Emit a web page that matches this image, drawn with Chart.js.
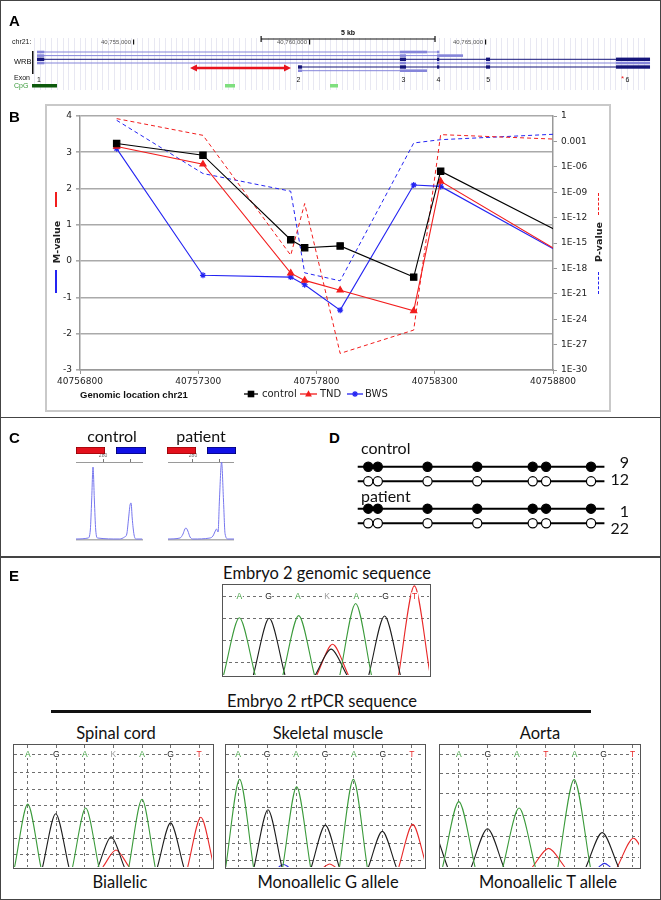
<!DOCTYPE html>
<html>
<head>
<meta charset="utf-8">
<script src="https://cdn.jsdelivr.net/npm/chart.js@4.4.1/dist/chart.umd.min.js"></script>
<style>
  body { margin: 0; background: #fff; }
  #fig { position: relative; width: 661px; height: 900px; overflow: hidden; font-family: 'Liberation Sans', Arial, sans-serif; }
  .frame { position: absolute; border: 1.5px solid #444; box-sizing: border-box; }
  .box { position: absolute; border: 1.3px solid #555; box-sizing: border-box; background: #fff; }
  canvas { position: absolute; display: block; }
</style>
</head>
<body>
<div id="fig">
  <div class="frame" style="left:0;top:0;width:661px;height:418px"></div>
  <div class="frame" style="left:0;top:416.5px;width:661px;height:141px"></div>
  <div class="frame" style="left:0;top:556px;width:661px;height:344px"></div>

  <canvas id="cA" width="661" height="64" style="left:0;top:28px"></canvas>

  <div style="position:absolute;left:45px;top:104px;width:566px;height:308px;border:2px solid #c9c9c9;box-sizing:border-box"></div>
  <canvas id="cB" width="562" height="304" style="left:47px;top:106px"></canvas>

  <canvas id="cC1" width="67" height="92" style="left:76px;top:450px"></canvas>
  <canvas id="cC2" width="66" height="92" style="left:168px;top:450px"></canvas>
  <canvas id="cD" width="265" height="80" style="left:350px;top:455px"></canvas>

  <div class="box" style="left:222px;top:584px;width:209px;height:93px"><canvas id="cE0" width="206" height="90" style="left:0;top:0"></canvas></div>
  <div class="box" style="left:13px;top:744px;width:201px;height:125px"><canvas id="cE1" width="198" height="122" style="left:0;top:0"></canvas></div>
  <div class="box" style="left:225px;top:744px;width:201px;height:125px"><canvas id="cE2" width="198" height="122" style="left:0;top:0"></canvas></div>
  <div class="box" style="left:438.5px;top:744px;width:202px;height:125px"><canvas id="cE3" width="199" height="122" style="left:0;top:0"></canvas></div>
  <div style="position:absolute;left:51px;top:709.5px;width:540px;height:3px;background:#111"></div>
</div>

<script>
// ---------- data ----------
// A: WRB locus (hg19 chr21)
const genomeMarks = [40755000, 40760000, 40765000];
const scaleBar = [40758640, 40763580];
const transcripts = [
  [[40752273, 40752480], [40762586, 40763353], [40763637, 40763700]],
  [[40752273, 40752480], [40762586, 40762756], [40763637, 40764376]],
  [[40752273, 40752480], [40762586, 40762756], [40763637, 40763700], [40765029, 40765142], [40768722, 40769688]],
  [[40752273, 40752480], [40762586, 40762756], [40763637, 40763700], [40765029, 40765142], [40768722, 40769688]],
  [[40759688, 40759800], [40762586, 40762756], [40763637, 40763700], [40765029, 40765142], [40768722, 40769688]],
  [[40759688, 40759800], [40762586, 40763353]]
];
const transcriptDark = [false, false, true, false, true, false];
const exonLabels = ['1', '2', '3', '4', '5', '6'];
const exonLabelPos = [40752330, 40759700, 40762680, 40763680, 40765090, 40769050];
const cpgIslands = [[40752131, 40752841], [40757614, 40757898], [40760597, 40760824]];
const targetRegion = [40756619, 40759489];

// B: methylation M-values and P-values
const siteLocations = [40756955, 40757320, 40757691, 40757750, 40757900, 40758211, 40758325, 40758950];
const controlM = [3.24, 2.92, 0.59, 0.37, 0.42, -0.44, 2.48, 0.40];
const tndM = [3.16, 2.67, -0.33, -0.53, -0.80, -1.37, 2.20, -0.21];
const bwsM = [3.10, -0.39, -0.44, -0.65, -1.35, 2.10, 2.06, -0.20];
const tndP = [0.49, 5.2e-3, 3.6e-17, 4.6e-11, 9.1e-29, 5.2e-26, 6.3e-3, 1.3e-3];
const bwsP = [0.31, 1.6e-7, 1.3e-9, 3e-19, 3.4e-20, 6.5e-4, 1.6e-3, 0.011];
const locationTicks = [40756800, 40757300, 40757800, 40758300, 40758800];
const pTicks = [1, 1e-3, 1e-6, 1e-9, 1e-12, 1e-15, 1e-18, 1e-21, 1e-24, 1e-27, 1e-30];

// C: fragment analysis traces (size in bp, RFU scaled)
const sizeTicks = [280, 290];
const controlSize = [270, 274.5, 275.3, 275.8, 276.3, 276.8, 277.3, 278, 286, 288, 288.8, 289.4, 290, 290.4, 290.8, 291.5, 292.3, 294.5];
const controlRFU = [1, 2, 10, 40, 73, 40, 10, 2, 1, 3, 6, 20, 35, 37, 22, 5, 1, 1];
const patientSize = [270.7, 275.2, 276.3, 277.0, 277.4, 278.1, 278.9, 280, 286.3, 287.4, 288.1, 288.7, 289.3, 289.8, 290.6, 291.3, 291.9, 293, 295.2];
const patientRFU = [1, 2, 6, 11, 12, 9, 3, 1, 2, 4, 8, 11, 8, 40, 78, 40, 6, 1, 1];

// D: bisulfite clones
const cpgSites = [13, 23, 75, 127, 185, 199, 246];
const ampliconSpan = [2, 260];
const controlClones = [9, 12];
const patientClones = [1, 22];

// E: sequencing traces, [base position, peak height, (half width)]
const genomicA = [[0, 0.636], [2.03, 0.66], [3.98, 0.795]];
const genomicG = [[1.02, 0.63], [3.14, 0.288], [4.97, 0.655]];
const genomicT = [[3.19, 0.341], [5.99, 0.99]];
const spinalA = [[0, 0.515], [2.03, 0.483], [4.0, 0.555]];
const spinalG = [[0.98, 0.437], [2.92, 0.247], [5.0, 0.362]];
const spinalT = [[3.09, 0.139], [6.06, 0.408]];
const muscleA = [[0.05, 0.718], [2.02, 0.657], [3.98, 0.718]];
const muscleG = [[1.03, 0.469], [3.01, 0.343], [4.98, 0.292]];
const muscleT = [[3.16, 0.025, 0.2], [6.03, 0.349]];
const muscleC = [[1.57, 0.02, 0.17]];
const aortaA = [[0, 0.536], [2.08, 0.483], [3.98, 0.716]];
const aortaG = [[-0.95, 0.32], [0.99, 0.314], [4.95, 0.282]];
const aortaT = [[3.1, 0.153], [6.03, 0.236]];
const aortaC = [[5.03, 0.03, 0.2]];
const genomicCalls = ['A', 'G', 'A', 'K', 'A', 'G', 'T'];
const spinalCalls = ['A', 'G', 'A', 'K', 'A', 'G', 'T'];
const muscleCalls = ['A', 'G', 'A', 'G', 'A', 'G', 'T'];
const aortaCalls = ['A', 'G', 'A', 'T', 'A', 'G', 'T'];
const basePositions = [0, 1, 2, 3, 4, 5, 6];

// ---------- helpers ----------
const fig = document.getElementById('fig');
function put(txt, x, y, css, anchor, rotate) {
  const d = document.createElement('div');
  d.textContent = txt;
  d.style.cssText = 'position:absolute;white-space:nowrap;line-height:1;left:' + x + 'px;top:' + y + 'px;' + (css || '');
  const tx = anchor === 'c' ? '-50%' : anchor === 'r' ? '-100%' : '0';
  d.style.transform = 'translate(' + tx + ',-50%)' + (rotate ? ' rotate(' + rotate + 'deg)' : '');
  fig.appendChild(d);
  return d;
}
function bar(x, y, w, h, css) {
  const d = document.createElement('div');
  d.style.cssText = 'position:absolute;left:' + x + 'px;top:' + y + 'px;width:' + w + 'px;height:' + h + 'px;' + css;
  fig.appendChild(d);
}
function pairs(xs, ys) { return xs.map((x, i) => ({ x: x, y: ys[i] })); }
const base = { responsive: false, animation: false, devicePixelRatio: 1, events: [],
  plugins: { legend: { display: false }, tooltip: { enabled: false } } };

const LABEL = 'font-weight:bold;font-size:15px;font-family:"Liberation Sans",Arial,sans-serif;';
const CAL = 'font-family:Lato,"Open Sans",sans-serif;color:#111;';
put('A', 9, 20, LABEL);
put('B', 9, 116, LABEL);
put('C', 9, 437, LABEL);
put('D', 329, 437, LABEL);
put('E', 9, 575, LABEL);

// ---------- A: gene track ----------
const geneTrack = {
  id: 'geneTrack',
  afterDraw(chart) {
    const ctx = chart.ctx;
    const X = v => chart.scales.x.getPixelForValue(v);
    const rowY = [24, 27.6, 31.3, 35, 39, 42.7];
    ctx.save();
    ctx.strokeStyle = 'rgba(165,165,205,0.26)';
    ctx.lineWidth = 1;
    for (let x = 34; x < 646; x += 5.7) {
      ctx.beginPath(); ctx.moveTo(Math.round(x) + 0.5, 10); ctx.lineTo(Math.round(x) + 0.5, 62); ctx.stroke();
    }
    ctx.fillStyle = '#222';
    ctx.font = '7px "Liberation Sans", Arial, sans-serif';
    ctx.textBaseline = 'middle';
    ctx.fillText('chr21:', 12, 14.5);
    ctx.fillStyle = '#555';
    ctx.font = '6px "Liberation Sans", Arial, sans-serif';
    ctx.textAlign = 'right';
    genomeMarks.forEach(m => {
      ctx.fillText(m.toLocaleString('en-US'), X(m) - 2, 14.5);
      ctx.fillStyle = '#111'; ctx.fillRect(X(m), 11.5, 1.2, 5); ctx.fillStyle = '#555';
    });
    // scale bar
    ctx.strokeStyle = '#111'; ctx.lineWidth = 1.2;
    ctx.beginPath();
    ctx.moveTo(X(scaleBar[0]), 11); ctx.lineTo(X(scaleBar[1]), 11);
    ctx.moveTo(X(scaleBar[0]), 8); ctx.lineTo(X(scaleBar[0]), 14);
    ctx.moveTo(X(scaleBar[1]), 8); ctx.lineTo(X(scaleBar[1]), 14);
    ctx.stroke();
    ctx.fillStyle = '#111'; ctx.textAlign = 'center';
    ctx.font = 'bold 7px "Liberation Sans", Arial, sans-serif';
    ctx.fillText('5 kb', (X(scaleBar[0]) + X(scaleBar[1])) / 2, 5.5);
    // transcripts: light ones first, dark ones on top
    [false, true].forEach(pass => {
      transcripts.forEach((ex, i) => {
        const dark = transcriptDark[i];
        if (dark !== pass) return;
        const col = dark ? '#15157a' : '#8585da';
        const y = rowY[i];
        ctx.strokeStyle = col; ctx.fillStyle = col; ctx.lineWidth = 1;
        ctx.beginPath(); ctx.moveTo(X(ex[0][0]), y); ctx.lineTo(X(ex[ex.length - 1][1]), y); ctx.stroke();
        ex.forEach(e => {
          const w = Math.max(2, X(e[1]) - X(e[0]));
          const h = dark ? 3.4 : 2.6;
          ctx.fillRect(X(e[0]), y - h / 2, w, h);
        });
      });
    });
    ctx.fillStyle = '#111'; ctx.fillRect(32, 23, 1.5, 23);
    ctx.font = '7.5px "Liberation Sans", Arial, sans-serif'; ctx.textAlign = 'left';
    ctx.fillText('WRB', 14, 34);
    // target region arrow
    const a0 = X(targetRegion[0]), a1 = X(targetRegion[1]);
    ctx.strokeStyle = '#e8141e'; ctx.fillStyle = '#e8141e'; ctx.lineWidth = 2.6;
    ctx.beginPath(); ctx.moveTo(a0 + 4, 40); ctx.lineTo(a1 - 4, 40); ctx.stroke();
    ctx.beginPath(); ctx.moveTo(a0, 40); ctx.lineTo(a0 + 7, 36.5); ctx.lineTo(a0 + 7, 43.5); ctx.fill();
    ctx.beginPath(); ctx.moveTo(a1, 40); ctx.lineTo(a1 - 7, 36.5); ctx.lineTo(a1 - 7, 43.5); ctx.fill();
    // exon numbers
    ctx.fillStyle = '#111'; ctx.font = '7px "Liberation Sans", Arial, sans-serif';
    ctx.fillText('Exon', 14, 50.5);
    ctx.textAlign = 'center';
    exonLabels.forEach((t, i) => ctx.fillText(t, X(exonLabelPos[i]), 52));
    ctx.fillStyle = '#ee2222'; ctx.font = '8px "Liberation Sans", Arial, sans-serif';
    ctx.fillText('*', X(exonLabelPos[5]) - 5, 50.5);
    // CpG islands
    ctx.textAlign = 'left'; ctx.fillStyle = '#3a9a3a'; ctx.font = '7px "Liberation Sans", Arial, sans-serif';
    ctx.fillText('CpG', 14, 58);
    cpgIslands.forEach((c, i) => {
      ctx.fillStyle = i === 0 ? '#0d5a0d' : '#7fdf7f';
      ctx.fillRect(X(c[0]), 56, X(c[1]) - X(c[0]), 3.5);
    });
    ctx.restore();
  }
};
new Chart(document.getElementById('cA'), {
  type: 'scatter',
  data: { datasets: [] },
  options: Object.assign({}, base, {
    layout: { padding: 0 },
    scales: {
      x: { type: 'linear', display: false, min: 40751222, max: 40770000 },
      y: { type: 'linear', display: false, min: 0, max: 64, reverse: true }
    }
  }),
  plugins: [geneTrack]
});

// ---------- B: methylation chart ----------
const RED = '#f21d1d', BLUE = '#2424f2';
const tickFont = { family: '"DejaVu Sans", Verdana, sans-serif', size: 9 };
function drawMarker(ctx, style, x, y, color) {
  ctx.fillStyle = color; ctx.strokeStyle = color;
  if (style === 'rect') ctx.fillRect(x - 3.3, y - 3.3, 6.6, 6.6);
  else if (style === 'triangle') {
    ctx.beginPath(); ctx.moveTo(x, y - 3.8); ctx.lineTo(x + 3.4, y + 2.4); ctx.lineTo(x - 3.4, y + 2.4); ctx.fill();
  } else {
    ctx.lineWidth = 1.2; ctx.beginPath();
    ctx.moveTo(x - 3, y); ctx.lineTo(x + 3, y); ctx.moveTo(x, y - 3); ctx.lineTo(x, y + 3);
    ctx.moveTo(x - 2.1, y - 2.1); ctx.lineTo(x + 2.1, y + 2.1); ctx.moveTo(x - 2.1, y + 2.1); ctx.lineTo(x + 2.1, y - 2.1);
    ctx.stroke();
  }
}
const legendB = {
  id: 'legendB',
  afterDraw(chart) {
    const ctx = chart.ctx;
    const y = 288;
    const slots = [[197, 211, 215], [253, 270, 273], [300, 316, 318]];
    ctx.save();
    ctx.font = '10px "DejaVu Sans", Verdana, sans-serif';
    ctx.textBaseline = 'middle';
    slots.forEach((s, i) => {
      const ds = chart.data.datasets[i];
      ctx.strokeStyle = ds.borderColor; ctx.lineWidth = 1.3;
      ctx.beginPath(); ctx.moveTo(s[0], y); ctx.lineTo(s[1], y); ctx.stroke();
      drawMarker(ctx, ds.pointStyle, (s[0] + s[1]) / 2, y, ds.borderColor);
      ctx.fillStyle = '#222';
      ctx.fillText(ds.label, s[2], y + 0.5);
    });
    ctx.restore();
  }
};
new Chart(document.getElementById('cB'), {
  type: 'line',
  data: {
    datasets: [
      { label: 'control', data: pairs(siteLocations, controlM), borderColor: '#000', backgroundColor: '#000', borderWidth: 1.1, pointStyle: 'rect', pointRadius: 4.5, yAxisID: 'y' },
      { label: 'TND', data: pairs(siteLocations, tndM), borderColor: RED, backgroundColor: RED, borderWidth: 1.1, pointStyle: 'triangle', pointRadius: 3.6, yAxisID: 'y' },
      { label: 'BWS', data: pairs(siteLocations, bwsM), borderColor: BLUE, backgroundColor: BLUE, borderWidth: 1.1, pointStyle: 'star', pointRadius: 3, pointBorderWidth: 1.2, yAxisID: 'y' },
      { label: 'TND P', data: pairs(siteLocations, tndP), borderColor: RED, borderWidth: 1, borderDash: [4, 3], pointRadius: 0, yAxisID: 'y2' },
      { label: 'BWS P', data: pairs(siteLocations, bwsP), borderColor: BLUE, borderWidth: 1, borderDash: [4, 3], pointRadius: 0, yAxisID: 'y2' }
    ]
  },
  options: Object.assign({}, base, {
    layout: { padding: { top: 10, left: 0, right: 0, bottom: 0 } },
    scales: {
      x: {
        type: 'linear', min: 40756800, max: 40758800,
        afterBuildTicks: s => { s.ticks = locationTicks.map(v => ({ value: v })); },
        ticks: { callback: v => String(v), font: tickFont, color: '#222', padding: 2, maxRotation: 0, autoSkip: false },
        grid: { drawOnChartArea: false, tickLength: 4, color: '#999' },
        border: { color: '#999', width: 1.5 },
        afterFit: s => { s.height = 40; }
      },
      y: {
        min: -3, max: 4,
        ticks: { stepSize: 1, font: tickFont, color: '#222', padding: 4 },
        grid: { color: '#aaa', lineWidth: 1.6, tickLength: 4 },
        border: { color: '#999', width: 1.5 },
        afterFit: s => { s.width = 33; }
      },
      y2: {
        type: 'logarithmic', position: 'right', min: 1e-30, max: 1,
        afterBuildTicks: s => { s.ticks = pTicks.map(v => ({ value: v })); },
        ticks: {
          font: tickFont, color: '#222', padding: 4,
          callback: v => {
            const e = Math.round(Math.log10(v));
            if (e === 0) return '1';
            if (e === -3) return '0.001';
            return '1E-' + String(-e).padStart(2, '0');
          }
        },
        grid: { drawOnChartArea: false, tickLength: 4, color: '#999' },
        border: { color: '#999', width: 1.5 },
        afterFit: s => { s.width = 56; }
      }
    }
  }),
  plugins: [legendB]
});
put('M-value', 56, 242, 'font:bold 9.5px "DejaVu Sans",Verdana,sans-serif;color:#222;', 'c', -90);
bar(55, 192, 1.5, 15, 'background:' + RED);
bar(55, 270, 1.5, 23, 'background:' + BLUE);
put('P-value', 598, 242, 'font:bold 9.5px "DejaVu Sans",Verdana,sans-serif;color:#222;', 'c', -90);
bar(598, 193, 0, 22, 'border-left:1.5px dashed ' + RED);
bar(598, 272, 0, 22, 'border-left:1.5px dashed ' + BLUE);
put('Genomic location chr21', 80, 394, 'font:bold 9.5px "Liberation Sans",Arial,sans-serif;color:#111;');

// ---------- C: allele peaks ----------
put('control', 112, 436, CAL + 'font-size:16px;', 'c');
put('patient', 201, 436, CAL + 'font-size:16px;', 'c');
bar(76, 447, 29, 7, 'background:#e3101c;box-shadow:inset 0 0 0 0.6px #700');
bar(116, 447, 30, 7, 'background:#1010e6;box-shadow:inset 0 0 0 0.6px #004');
bar(167, 447, 29, 7, 'background:#e3101c;box-shadow:inset 0 0 0 0.6px #700');
bar(207, 447, 29, 7, 'background:#1010e6;box-shadow:inset 0 0 0 0.6px #004');
function traceChart(id, sizes, rfu, minX, maxX) {
  new Chart(document.getElementById(id), {
    type: 'line',
    data: { datasets: [{ data: pairs(sizes, rfu), borderColor: '#7676ee', borderWidth: 1, pointRadius: 0, cubicInterpolationMode: 'monotone' }] },
    options: Object.assign({}, base, {
      layout: { padding: 0 },
      scales: {
        x: {
          type: 'linear', position: 'top', min: minX, max: maxX,
          afterBuildTicks: s => { s.ticks = sizeTicks.map(v => ({ value: v })); },
          ticks: { font: { size: 5 }, color: '#666', padding: 0, maxRotation: 0, callback: v => (v === 280 ? '280' : '') },
          grid: { drawOnChartArea: false, tickLength: 3, color: '#777' },
          border: { color: '#9a9a9a', width: 1 },
          afterFit: s => { s.height = 12; }
        },
        x2: {
          type: 'linear', position: 'bottom', min: minX, max: maxX,
          ticks: { display: false }, grid: { display: false },
          border: { color: '#b0b0b0', width: 1.5 },
          afterFit: s => { s.height = 2; }
        },
        y: { display: false, min: 0, max: 78 }
      }
    })
  });
}
traceChart('cC1', controlSize, controlRFU, 270, 294.8);
traceChart('cC2', patientSize, patientRFU, 270.74, 295.2);

// ---------- D: bisulfite clones ----------
put('control', 361, 448, CAL + 'font-size:16px;');
put('patient', 361, 496, CAL + 'font-size:16px;');
const rowsD = [controlClones[0], controlClones[1], patientClones[0], patientClones[1]];
const rowYD = [7, 24, 56, 73];
const dsD = [];
rowsD.forEach((n, r) => {
  const filled = r % 2 === 0;
  dsD.push({ data: ampliconSpan.map(x => ({ x: x, y: rowYD[r] })), borderColor: '#000', borderWidth: 2, pointRadius: 0, showLine: true, order: 2 });
  dsD.push({ data: cpgSites.map(x => ({ x: x, y: rowYD[r] })), showLine: false, pointRadius: 4.6, pointBorderWidth: 1.2,
    pointBorderColor: '#000', pointBackgroundColor: filled ? '#000' : '#fff', order: 1 });
  put(String(n), 629, 455 + rowYD[r], CAL + 'font-size:16px;', 'r');
});
new Chart(document.getElementById('cD'), {
  type: 'scatter',
  data: { datasets: dsD },
  options: Object.assign({}, base, {
    layout: { padding: 0 },
    scales: {
      x: { type: 'linear', display: false, min: 0, max: 265 },
      y: { type: 'linear', display: false, min: 0, max: 80, reverse: true }
    }
  })
});

// ---------- E: sequencing traces ----------
put('Embryo 2 genomic sequence', 327, 573, CAL + 'font-size:16.5px;', 'c');
put('Embryo 2 rtPCR sequence', 322, 701, CAL + 'font-size:16.5px;', 'c');
put('Spinal cord', 116, 733, CAL + 'font-size:16.5px;', 'c');
put('Skeletal muscle', 328, 733, CAL + 'font-size:16.5px;', 'c');
put('Aorta', 540, 733, CAL + 'font-size:16.5px;', 'c');
put('Biallelic', 120, 882, CAL + 'font-size:16.5px;', 'c');
put('Monoallelic G allele', 328, 882, CAL + 'font-size:16.5px;', 'c');
put('Monoallelic T allele', 548, 882, CAL + 'font-size:16.5px;', 'c');

const channelColor = { A: '#3a9a3a', G: '#1c1c1c', T: '#e82828', C: '#2b2be0' };
const callColor = { A: '#3a9a3a', G: '#222', T: '#e82828', K: '#9a9a9a' };
function callsPlugin(calls, y) {
  return {
    id: 'calls',
    afterDraw(chart) {
      const ctx = chart.ctx;
      ctx.save();
      ctx.font = '8.5px "Liberation Sans", Arial, sans-serif';
      ctx.textAlign = 'center'; ctx.textBaseline = 'middle';
      calls.forEach((c, i) => {
        const px = chart.scales.x.getPixelForValue(basePositions[i]);
        const py = chart.scales.y.getPixelForValue(y);
        ctx.fillStyle = '#fff'; ctx.fillRect(px - 3.5, py - 4, 7, 8);
        ctx.fillStyle = callColor[c];
        ctx.fillText(c, px, py + 0.5);
      });
      ctx.restore();
    }
  };
}
function chromatogram(id, o) {
  const datasets = [];
  Object.keys(o.peaks).forEach(ch => {
    o.peaks[ch].forEach(pk => {
      const hw = pk[2] || o.hw;
      datasets.push({
        data: [{ x: pk[0] - hw, y: 0 }, { x: pk[0], y: pk[1] }, { x: pk[0] + hw, y: 0 }],
        borderColor: channelColor[ch], borderWidth: 1.1, pointRadius: 0, tension: 0.3, fill: false
      });
    });
  });
  new Chart(document.getElementById(id), {
    type: 'line',
    data: { datasets: datasets },
    options: Object.assign({}, base, {
      layout: { padding: 0 },
      scales: {
        x: {
          type: 'linear', min: o.xMin, max: o.xMax,
          afterBuildTicks: s => { s.ticks = o.vGrid ? basePositions.map(v => ({ value: v })) : []; },
          ticks: { display: false },
          grid: { display: o.vGrid, color: '#6f6f6f', lineWidth: 1, drawTicks: false },
          border: { display: false, dash: [3, 3] },
          afterFit: s => { s.height = 0; }
        },
        y: {
          min: 0, max: 1,
          afterBuildTicks: s => { s.ticks = o.gridY.map(v => ({ value: v })); },
          ticks: { display: false },
          grid: { color: '#6f6f6f', lineWidth: 1, drawTicks: false },
          border: { display: false, dash: [3, 3] },
          afterFit: s => { s.width = 0; }
        }
      }
    }),
    plugins: [callsPlugin(o.calls, o.callY)]
  });
}
chromatogram('cE0', { peaks: { A: genomicA, G: genomicG, T: genomicT }, calls: genomicCalls, callY: 0.874,
  xMin: -0.56, xMax: 6.49, hw: 0.54, vGrid: false, gridY: [0.134, 0.379, 0.624, 0.874] });
chromatogram('cE1', { peaks: { A: spinalA, G: spinalG, T: spinalT }, calls: spinalCalls, callY: 0.926,
  xMin: -0.48, xMax: 6.45, hw: 0.46, vGrid: true, gridY: [0.101, 0.236, 0.37, 0.504, 0.636, 0.773, 0.926] });
chromatogram('cE2', { peaks: { A: muscleA, G: muscleG, T: muscleT, C: muscleC }, calls: muscleCalls, callY: 0.925,
  xMin: -0.42, xMax: 6.42, hw: 0.48, vGrid: true, gridY: [0.054, 0.196, 0.343, 0.488, 0.635, 0.777, 0.925] });
chromatogram('cE3', { peaks: { A: aortaA, G: aortaG, T: aortaT, C: aortaC }, calls: aortaCalls, callY: 0.925,
  xMin: -0.65, xMax: 6.22, hw: 0.56, vGrid: true, gridY: [0.08, 0.247, 0.424, 0.603, 0.769, 0.925] });
</script>
</body>
</html>
